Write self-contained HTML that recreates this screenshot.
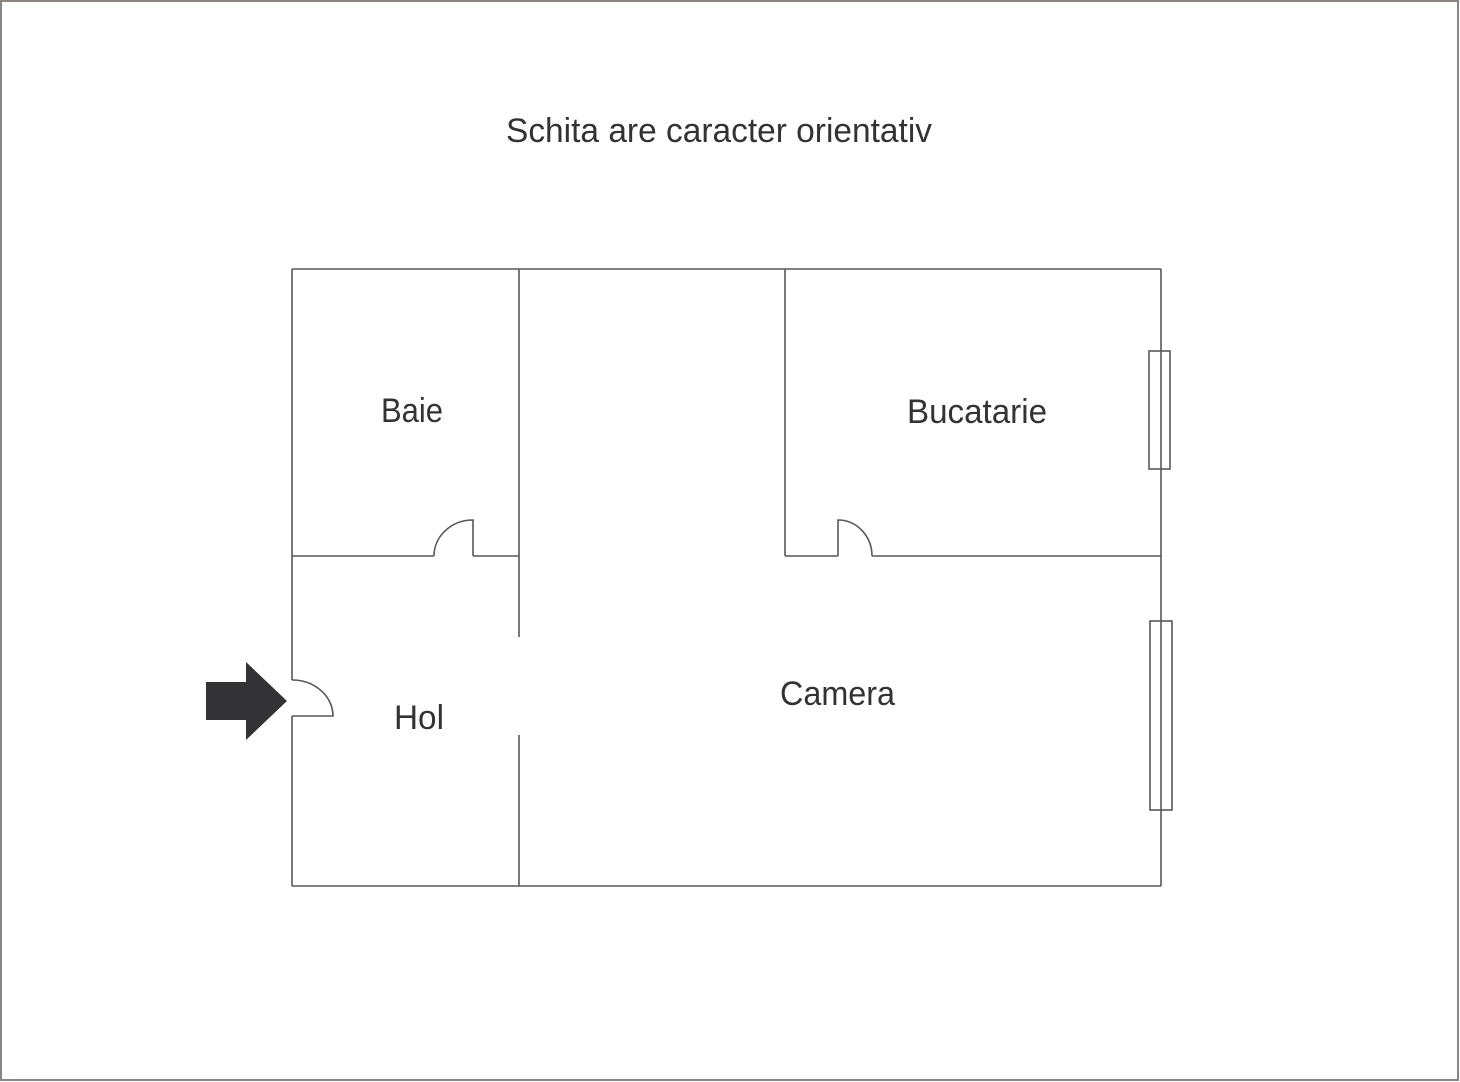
<!DOCTYPE html>
<html><head><meta charset="utf-8"><style>
html,body{margin:0;padding:0;background:#fff;}
svg{display:block;}
text{font-family:"Liberation Sans",sans-serif;fill:#333336;}
</style></head><body>
<svg width="1460" height="1082" viewBox="0 0 1460 1082" xmlns="http://www.w3.org/2000/svg">
<rect x="1" y="1" width="1457" height="1079" fill="#fff" stroke="#8a8582" stroke-width="2"/>
<text x="506" y="142" font-size="34" textLength="426" lengthAdjust="spacingAndGlyphs">Schita are caracter orientativ</text>
<g fill="none" stroke="#5a5658" stroke-width="1.6">
<!-- outer walls -->
<line x1="292" y1="269" x2="1161" y2="269"/>
<line x1="292" y1="886" x2="1161" y2="886"/>
<line x1="292" y1="269" x2="292" y2="680"/>
<line x1="292" y1="716" x2="292" y2="886"/>
<line x1="1161" y1="269" x2="1161" y2="886"/>
<!-- inner walls -->
<line x1="519" y1="269" x2="519" y2="637"/>
<line x1="519" y1="735" x2="519" y2="886"/>
<line x1="785" y1="269" x2="785" y2="556"/>
<line x1="292" y1="556" x2="434" y2="556"/>
<line x1="473" y1="556" x2="519" y2="556"/>
<line x1="785" y1="556" x2="838" y2="556"/>
<line x1="872" y1="556" x2="1161" y2="556"/>
<!-- doors -->
<path d="M434 556 A39 36 0 0 1 473 520 L473 556"/>
<path d="M838 556 L838 520 A34 36 0 0 1 872 556"/>
<path d="M292 680 A41 36 0 0 1 333 716 L292 716"/>
<!-- windows -->
<rect x="1149" y="351" width="21" height="118"/>
<rect x="1150" y="621" width="22" height="189"/>
</g>
<!-- arrow -->
<polygon points="206,682 246,682 246,662 287,701 246,740 246,720 206,720" fill="#333336"/>
<text x="381" y="422" font-size="34" textLength="62" lengthAdjust="spacingAndGlyphs">Baie</text>
<text x="907" y="423" font-size="34" textLength="140" lengthAdjust="spacingAndGlyphs">Bucatarie</text>
<text x="780" y="705" font-size="34" textLength="115" lengthAdjust="spacingAndGlyphs">Camera</text>
<text x="394" y="729" font-size="34" textLength="50" lengthAdjust="spacingAndGlyphs">Hol</text>
</svg>
</body></html>
